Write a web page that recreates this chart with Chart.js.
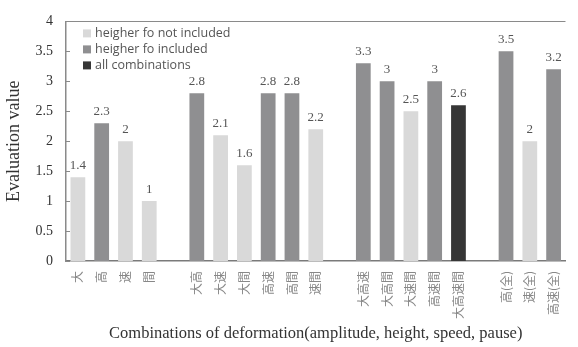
<!DOCTYPE html>
<html>
<head>
<meta charset="utf-8">
<script src="https://cdn.jsdelivr.net/npm/chart.js@4/dist/chart.umd.min.js"></script>
<style>
  html, body { margin: 0; padding: 0; background: #fff; }
  #wrap { width: 578px; height: 347px; position: relative; }
</style>
</head>
<body>
<div id="wrap"><canvas id="c" width="578" height="347"></canvas></div>
<script>
// Deformation combinations (empty strings separate the groups)
const categories = [
  '大', '高', '速', '間', '',
  '大高', '大速', '大間', '高速', '高間', '速間', '',
  '大高速', '大高間', '大速間', '高速間', '大高速間', '',
  '高(全)', '速(全)', '高速(全)'
];

// Evaluation values per series (null where the series has no bar)
const foNotIncluded = [1.4, null, 2, 1, null,
  null, 2.1, 1.6, null, null, 2.2, null,
  null, null, 2.5, null, null, null,
  null, 2, null];
const foIncluded = [null, 2.3, null, null, null,
  2.8, null, null, 2.8, 2.8, null, null,
  3.3, 3, null, 3, null, null,
  3.5, null, 3.2];
const allCombinations = [null, null, null, null, null,
  null, null, null, null, null, null, null,
  null, null, null, null, 2.6, null,
  null, null, null];

const seriesNames = ['heigher fo not included', 'heigher fo included', 'all combinations'];
const yTicks = [0, 0.5, 1, 1.5, 2, 2.5, 3, 3.5, 4];

const colors = ['#d9d9d9', '#8f8f91', '#363636'];
const serif = "'Liberation Serif', 'Times New Roman', serif";

// Value labels above each bar
const valueLabels = {
  id: 'valueLabels',
  afterDatasetsDraw(chart) {
    const ctx = chart.ctx;
    ctx.save();
    ctx.font = '13px ' + serif;
    ctx.fillStyle = '#555';
    ctx.textAlign = 'center';
    ctx.textBaseline = 'bottom';
    chart.data.datasets.forEach((ds, di) => {
      const meta = chart.getDatasetMeta(di);
      meta.data.forEach((el, i) => {
        const v = ds.data[i];
        if (v === null || v === undefined) return;
        ctx.fillText(String(v), el.x, el.y - 5);
      });
    });
    ctx.restore();
  }
};

// Frame top line, inward y tick marks and the legend box in the plot corner
const frameAndLegend = {
  id: 'frameAndLegend',
  afterDraw(chart) {
    const ctx = chart.ctx;
    const area = chart.chartArea;
    const y = chart.scales.y;
    ctx.save();
    ctx.strokeStyle = '#8a8a8a';
    ctx.lineWidth = 1;
    ctx.beginPath();
    ctx.moveTo(area.left, Math.round(area.top) + 0.5);
    ctx.lineTo(area.right, Math.round(area.top) + 0.5);
    yTicks.forEach(t => {
      const py = Math.round(y.getPixelForValue(t)) + 0.5;
      ctx.moveTo(area.left, py);
      ctx.lineTo(area.left + 4, py);
    });
    ctx.stroke();

    ctx.font = "12.5px 'Open Sans', 'Noto Sans', sans-serif";
    ctx.textBaseline = 'middle';
    ctx.textAlign = 'left';
    seriesNames.forEach((name, i) => {
      const ly = area.top + 12 + i * 16;
      ctx.fillStyle = colors[i];
      ctx.fillRect(area.left + 17, ly - 4, 8, 8);
      ctx.fillStyle = '#555';
      ctx.fillText(name, area.left + 29, ly);
    });
    ctx.restore();
  }
};

const datasets = [foNotIncluded, foIncluded, allCombinations].map((d, i) => ({
  label: seriesNames[i],
  data: d,
  backgroundColor: colors[i],
  borderWidth: 0,
  grouped: false,
  categoryPercentage: 1,
  barPercentage: 0.62
}));

new Chart(document.getElementById('c'), {
  type: 'bar',
  data: { labels: categories, datasets },
  options: {
    responsive: false,
    devicePixelRatio: 1,
    animation: false,
    layout: { padding: { top: 15, right: 0, left: 0, bottom: 0 } },
    plugins: { legend: { display: false }, tooltip: { enabled: false } },
    scales: {
      x: {
        grid: { display: false, drawTicks: false },
        border: { display: true, color: '#7a7a7a', width: 1.5 },
        ticks: {
          autoSkip: false,
          minRotation: 90,
          maxRotation: 90,
          padding: 10,
          color: '#888',
          font: { family: "'Noto Sans CJK JP', sans-serif", size: 12 }
        },
        title: {
          display: true,
          text: 'Combinations of deformation(amplitude, height, speed, pause)',
          color: '#333',
          font: { family: serif, size: 16.5 },
          padding: { top: 0, bottom: 3 }
        },
        afterFit(scale) { scale.height = 86; }
      },
      y: {
        min: 0,
        max: 4,
        afterBuildTicks(scale) { scale.ticks = yTicks.map(v => ({ value: v })); },
        grid: { display: false, drawTicks: false },
        border: { display: true, color: '#8a8a8a', width: 1.5 },
        ticks: {
          padding: 13,
          color: '#333',
          font: { family: serif, size: 14 },
          callback: v => String(v)
        },
        title: {
          display: true,
          text: 'Evaluation value',
          color: '#333',
          font: { family: serif, size: 18 },
          padding: { top: 3, bottom: 0 }
        },
        afterFit(scale) { scale.width = 66; }
      }
    }
  },
  plugins: [valueLabels, frameAndLegend]
});
</script>
</body>
</html>
